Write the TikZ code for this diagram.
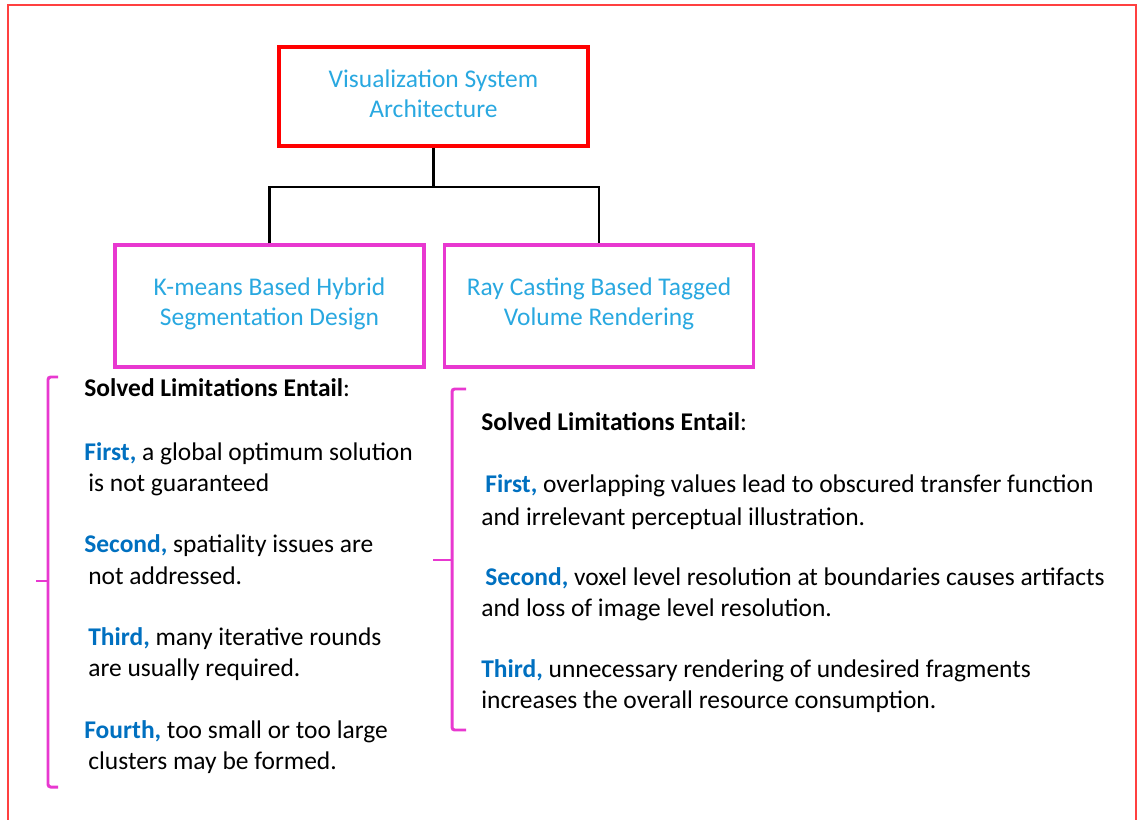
\documentclass[tikz,border=0pt]{standalone}
\usepackage{fontspec}
\setmainfont{Carlito}
\usetikzlibrary{positioning}
\definecolor{titleblue}{RGB}{41,168,224}
\definecolor{keyblue}{RGB}{0,112,192}
\definecolor{boxmagenta}{RGB}{232,56,208}
\newcommand{\keyw}[1]{\textcolor{keyblue}{\textbf{#1}}}
\tikzset{
	topbox/.style={draw=red, line width=1.9pt, minimum width=6.18cm, minimum height=1.98cm},
	subbox/.style={draw=boxmagenta, line width=1.9pt, minimum width=6.18cm, minimum height=2.44cm},
	boxtext/.style={align=center, text=titleblue, yshift=1.4pt, font=\fontsize{14.5}{17}\selectfont},
	brace/.style={draw=boxmagenta, line width=1.7pt, rounded corners=1.5pt},
	entry/.style={anchor=base west, inner sep=0, font=\fontsize{14.5}{17}\selectfont}
}
\begin{document}
\begin{tikzpicture}[x=0.02cm, y=-0.02cm]
		\useasboundingbox (0,0) rectangle (1138,820);
		\draw [color=red!75, line width=0.6pt] (8,830) -- (8,5) -- (1136,5) -- (1136,830);
		\node [topbox, label={[boxtext]center:Visualization System\\Architecture}] (arch) at (433.5,96.5) {};
		\node [subbox, label={[boxtext]center:K-means Based Hybrid\\Segmentation Design}] (kmeans) at (269.5,306) {};
		\node [subbox, label={[boxtext]center:Ray Casting Based Tagged\\Volume Rendering}] (raycast) at (599,306) {};
		\coordinate (split) at (433.5,187);
		\draw [line width=1.3pt] (arch.south) -- (split);
		\draw [line width=1.3pt] (kmeans.north) |- (split) -| (raycast.north);
		% braces
		\draw [brace] (58,377) -- (48,377) -- (48,787) -- (58,787);
		\draw [brace] (48,581) -- (36,581);
		\draw [brace] (466,389) -- (452,389) -- (452,730) -- (466,730);
		\draw [brace] (452,560) -- (433,560);
		% left column
		\foreach \n/\x/\y/\t in {l1/84/397/{\textbf{Solved Limitations Entail}:},
			l2/84/460/{\keyw{First,} a global optimum solution},
			l3/88/491/{is not guaranteed},
			l4/84/552/{\keyw{Second,} spatiality issues are},
			l5/88/584/{not addressed.},
			l6/88/645/{\keyw{Third,} many iterative rounds},
			l7/88/676/{are usually required.},
			l8/84/738/{\keyw{Fourth,} too small or too large},
			l9/88/769/{clusters may be formed.}}
			\node [entry] (\n) at (\x,\y) {\t};
		% right column
		\foreach \n/\x/\y/\t in {r1/481/430/{\textbf{Solved Limitations Entail}:},
			r2/485/492/{\keyw{First,} overlapping values lead to obscured transfer function},
			r3/481/525/{and irrelevant perceptual illustration.},
			r4/485/585/{\keyw{Second,} voxel level resolution at boundaries causes artifacts},
			r5/481/616/{and loss of image level resolution.},
			r6/481/677/{\keyw{Third,} unnecessary rendering of undesired fragments},
			r7/481/708/{increases the overall resource consumption.}}
			\node [entry] (\n) at (\x,\y) {\t};
	\end{tikzpicture}
\end{document}
